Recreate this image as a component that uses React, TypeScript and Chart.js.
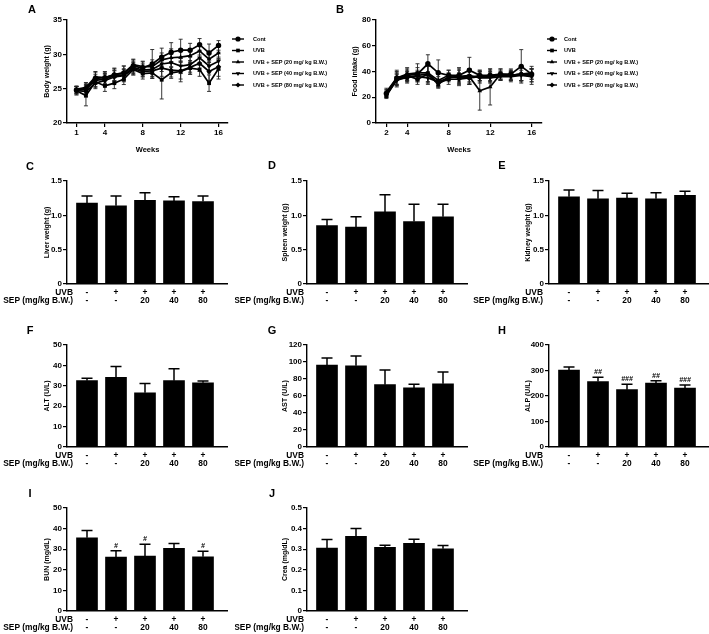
import { useEffect, useRef } from "react";
import { Chart, registerables } from "chart.js";
import { drawPoint } from "chart.js/helpers";

Chart.register(...registerables);

const FONT = '"Liberation Sans", Arial, Helvetica, sans-serif';

// ---- Groups ----
const groupNames = [
  "Cont",
  "UVB",
  "UVB + SEP (20 mg/ kg B.W.)",
  "UVB + SEP (40 mg/ kg B.W.)",
  "UVB + SEP (80 mg/ kg B.W.)",
];
const groupMarkers = ["circle", "rect", "triangle", "triangle", "rectRot"];
const groupMarkerRotation = [0, 0, 0, 180, 0];

// ---- A: body weight (g) by week ----
const bwWeeks = [1, 2, 3, 4, 5, 6, 7, 8, 9, 10, 11, 12, 13, 14, 15, 16];
const bwTicks = [1, 4, 8, 12, 16];
const bwCont = [24.8, 25.0, 26.5, 26.6, 27.0, 27.3, 28.3, 28.0, 28.6, 29.6, 30.3, 30.6, 30.6, 31.4, 30.2, 31.3];
const bwContSd = [0.5, 0.8, 0.9, 0.8, 0.9, 1.0, 0.9, 0.9, 2.1, 1.3, 1.4, 1.6, 1.0, 0.9, 1.3, 0.7];
const bwUvb = [24.7, 24.0, 26.0, 25.4, 25.8, 26.4, 27.8, 27.2, 27.3, 26.3, 27.3, 27.5, 28.0, 27.8, 25.8, 27.9];
const bwUvbSd = [0.6, 1.5, 0.8, 0.8, 0.8, 0.8, 0.8, 0.8, 0.8, 2.8, 0.8, 1.5, 0.9, 1.0, 1.2, 1.5];
const bw20 = [24.9, 25.2, 26.7, 26.6, 27.1, 27.3, 28.5, 28.2, 28.2, 29.2, 29.5, 29.6, 29.8, 30.5, 29.3, 30.2];
const bw20Sd = [0.5, 0.7, 0.8, 0.9, 0.9, 1.0, 0.8, 0.8, 1.0, 1.0, 1.3, 1.2, 1.0, 1.0, 1.1, 1.0];
const bw40 = [24.8, 24.9, 26.2, 26.4, 26.9, 27.0, 28.1, 27.7, 27.8, 28.6, 28.8, 28.3, 28.5, 29.5, 28.3, 29.0];
const bw40Sd = [0.5, 0.7, 0.9, 0.8, 0.8, 0.9, 0.9, 0.9, 1.0, 1.1, 1.2, 1.1, 1.1, 1.1, 1.0, 1.3];
const bw80 = [24.7, 24.6, 25.8, 26.2, 26.7, 26.9, 27.9, 27.5, 27.6, 28.0, 27.7, 27.6, 28.1, 28.7, 27.5, 28.2];
const bw80Sd = [0.6, 0.8, 0.8, 0.9, 0.9, 0.9, 0.9, 0.8, 0.9, 1.2, 1.0, 1.2, 1.0, 1.2, 1.3, 1.4];

// ---- B: food intake (g) by week ----
const fiWeeks = [2, 3, 4, 5, 6, 7, 8, 9, 10, 11, 12, 13, 14, 15, 16];
const fiTicks = [2, 4, 8, 12, 16];
const fiCont = [23, 35, 37, 38, 46, 39, 37, 37, 41, 37, 37, 38, 38, 44, 38];
const fiContSd = [3, 6, 5, 5, 7, 10, 4, 6, 10, 4, 5, 4, 4, 13, 4];
const fiUvb = [21, 34, 35, 37, 38, 30, 36, 35, 35, 36, 37, 37, 37, 38, 37];
const fiUvbSd = [2, 4, 4, 4, 6, 3, 3, 3, 5, 4, 4, 3, 4, 5, 5];
const fi20 = [24, 35, 38, 39, 39, 33, 37, 36, 36, 25, 28, 38, 37, 38, 39];
const fi20Sd = [3, 5, 5, 7, 8, 5, 4, 5, 6, 15, 14, 4, 4, 6, 5];
const fi40 = [22, 33, 36, 36, 35, 32, 35, 36, 37, 35, 35, 36, 36, 37, 36];
const fi40Sd = [2, 5, 4, 4, 5, 4, 3, 6, 5, 4, 4, 3, 4, 4, 6];
const fi80 = [23, 34, 37, 34, 38, 31, 34, 34, 35, 37, 36, 37, 37, 38, 37];
const fi80Sd = [2, 5, 4, 4, 6, 3, 4, 5, 5, 4, 4, 4, 3, 5, 5];

// ---- Treatment table under the bar charts ----
const uvbRow = ["-", "+", "+", "+", "+"];
const sepRow = ["-", "-", "20", "40", "80"];

// ---- C–J: organ weights and serum markers (mean, SD) ----
const liverMean = [1.18, 1.14, 1.22, 1.21, 1.2];
const liverSd = [0.1, 0.14, 0.11, 0.06, 0.08];
const spleenMean = [0.85, 0.83, 1.05, 0.91, 0.98];
const spleenSd = [0.09, 0.15, 0.25, 0.25, 0.18];
const kidneyMean = [1.27, 1.24, 1.25, 1.24, 1.29];
const kidneySd = [0.1, 0.12, 0.07, 0.09, 0.06];
const altMean = [32.5, 34.2, 26.6, 32.5, 31.5];
const altSd = [1.2, 5.2, 4.5, 5.8, 0.9];
const astMean = [96.5, 95.5, 73.3, 69.5, 74.3];
const astSd = [8.2, 11.5, 17.4, 4.2, 14];
const alpMean = [302, 257, 225, 251, 231];
const alpSd = [12, 17, 21, 9, 12];
const alpSig = ["", "##", "###", "##", "###"];
const bunMean = [35.5, 26.2, 26.6, 30.4, 26.3];
const bunSd = [3.6, 3.0, 5.8, 2.4, 2.7];
const bunSig = ["", "#", "#", "", "#"];
const creaMean = [0.305, 0.362, 0.309, 0.328, 0.302];
const creaSd = [0.042, 0.038, 0.01, 0.02, 0.016];

const tickFont = { family: FONT, size: 8, weight: "bold" as const };
const titleFont = { family: FONT, size: 7, weight: "bold" as const };

// Mean ± SD whiskers; bar charts show only the upper whisker
const errorBars = {
  id: "errorBars",
  beforeDatasetsDraw(chart: any, _a: any, opts: any) {
    if (opts && opts.behind) drawErrors(chart, opts);
  },
  afterDatasetsDraw(chart: any, _a: any, opts: any) {
    if (opts && !opts.behind) drawErrors(chart, opts);
  },
};

function drawErrors(chart: any, opts: any) {
  const ctx = chart.ctx;
  ctx.save();
  ctx.strokeStyle = opts.color || "#000";
  ctx.lineWidth = opts.lineWidth || 1;
  chart.data.datasets.forEach((ds: any, di: number) => {
    if (!ds.errors) return;
    const meta = chart.getDatasetMeta(di);
    const ys = chart.scales[meta.yAxisID];
    meta.data.forEach((el: any, i: number) => {
      const v = ds.data[i].y;
      const e = ds.errors[i];
      const x = el.x;
      const yt = ys.getPixelForValue(v + e);
      const yb = opts.upOnly ? ys.getPixelForValue(v) : ys.getPixelForValue(v - e);
      const hw = opts.capWidth / 2;
      ctx.beginPath();
      ctx.moveTo(x, yb);
      ctx.lineTo(x, yt);
      ctx.moveTo(x - hw, yt);
      ctx.lineTo(x + hw, yt);
      if (!opts.upOnly) {
        ctx.moveTo(x - hw, yb);
        ctx.lineTo(x + hw, yb);
      }
      ctx.stroke();
    });
  });
  ctx.restore();
}

// Line + marker key to the right of the plot
const groupLegend = {
  id: "groupLegend",
  afterDraw(chart: any, _a: any, opts: any) {
    if (!opts || !opts.show) return;
    const { ctx, chartArea } = chart;
    ctx.save();
    ctx.font = `bold 5.6px ${FONT}`;
    ctx.textBaseline = "middle";
    ctx.textAlign = "left";
    ctx.fillStyle = "#000";
    ctx.strokeStyle = "#000";
    ctx.lineWidth = 1.4;
    chart.data.datasets.forEach((ds: any, i: number) => {
      const x0 = chartArea.right + opts.dx;
      const y = chartArea.top + opts.dy + i * opts.gap;
      ctx.beginPath();
      ctx.moveTo(x0, y);
      ctx.lineTo(x0 + opts.lineLen, y);
      ctx.stroke();
      drawPoint(ctx, { pointStyle: ds.pointStyle, rotation: ds.pointRotation || 0, radius: 2.6, borderWidth: 0 } as any, x0 + opts.lineLen / 2, y);
      ctx.fillText(ds.label, x0 + opts.textDx, y);
    });
    ctx.restore();
  },
};

// UVB / SEP dose table aligned to the bars
const treatmentTable = {
  id: "treatmentTable",
  afterDraw(chart: any, _a: any, opts: any) {
    if (!opts || !opts.rows) return;
    const { ctx, chartArea } = chart;
    const xs = chart.scales.x;
    ctx.save();
    ctx.font = `bold 8.4px ${FONT}`;
    ctx.fillStyle = "#000";
    ctx.textBaseline = "middle";
    opts.rows.forEach((row: any, r: number) => {
      const y = chartArea.bottom + opts.rowDy[r];
      ctx.textAlign = "right";
      ctx.fillText(row.name, opts.labelRight, y);
      ctx.textAlign = "center";
      row.values.forEach((t: string, i: number) => ctx.fillText(t, xs.getPixelForValue(i), y));
    });
    ctx.restore();
  },
};

// Significance marks above the whiskers
const sigMarks = {
  id: "sigMarks",
  afterDatasetsDraw(chart: any, _a: any, opts: any) {
    if (!opts || !opts.marks) return;
    const ctx = chart.ctx;
    const ds: any = chart.data.datasets[0];
    const meta = chart.getDatasetMeta(0);
    const ys = chart.scales.y;
    ctx.save();
    ctx.font = `italic bold 7px ${FONT}`;
    ctx.fillStyle = "#000";
    ctx.textAlign = "center";
    ctx.textBaseline = "middle";
    opts.marks.forEach((m: string, i: number) => {
      if (!m) return;
      const top = ys.getPixelForValue(ds.data[i].y + ds.errors[i]);
      ctx.fillText(m, meta.data[i].x, top - 5);
    });
    ctx.restore();
  },
};

function yAxis(min: number, max: number, step: number, title: string, titleOffset: number, width: number, fmt?: (v: number) => string) {
  return {
    type: "linear",
    min,
    max,
    ticks: {
      stepSize: step,
      font: tickFont,
      color: "#000",
      padding: 1,
      ...(fmt ? { callback: (v: any) => fmt(Number(v)) } : {}),
    },
    grid: { display: true, drawOnChartArea: false, drawTicks: true, tickLength: 4, color: "#000", lineWidth: 1.2 },
    border: { display: true, color: "#000", width: 1.4 },
    title: { display: true, text: title, font: titleFont, color: "#000", padding: { top: titleOffset - 4.2, bottom: 0 } },
    afterFit: (s: any) => {
      s.width = width;
    },
  };
}

type Box = { left: number; top: number; width: number; height: number };

function ChartCanvas({ box, make }: { box: Box; make: () => any }) {
  const ref = useRef<HTMLCanvasElement>(null);
  useEffect(() => {
    const chart = new Chart(ref.current as HTMLCanvasElement, make());
    return () => chart.destroy();
  }, []);
  return (
    <canvas
      ref={ref}
      width={box.width}
      height={box.height}
      style={{ position: "absolute", left: box.left, top: box.top, width: box.width, height: box.height }}
    />
  );
}

function lineDatasets(weeks: number[], series: number[][], sds: number[][]) {
  return series.map((vals, g) => ({
    label: groupNames[g],
    data: vals.map((v, i) => ({ x: weeks[i], y: v })),
    errors: sds[g],
    borderColor: "#000",
    backgroundColor: "#000",
    borderWidth: 1.7,
    pointStyle: groupMarkers[g],
    pointRotation: groupMarkerRotation[g],
    pointRadius: 2.7,
    pointBorderWidth: 0,
    pointBackgroundColor: "#000",
    tension: 0,
  }));
}

type LineSpec = {
  canvas: Box;
  plot: { left: number; right: number; top: number; bottom: number };
  xMin: number;
  xMax: number;
  xTicks: number[];
  yMin: number;
  yMax: number;
  yStep: number;
  yTitle: string;
  yTitleX: number;
  xTitleY: number;
  legend: { dx: number; lineLen: number; textDx: number };
  datasets: any[];
};

function LinePanel({ spec }: { spec: LineSpec }) {
  const { canvas, plot } = spec;
  const make = () => ({
    type: "line",
    data: { datasets: spec.datasets },
    plugins: [errorBars, groupLegend],
    options: {
      responsive: false,
      animation: false,
      devicePixelRatio: 1,
      events: [],
      layout: { padding: { left: 0, top: plot.top - canvas.top, right: canvas.left + canvas.width - plot.right, bottom: 0 } },
      scales: {
        x: {
          type: "linear",
          min: spec.xMin,
          max: spec.xMax,
          offset: false,
          afterBuildTicks: (s: any) => {
            s.ticks = spec.xTicks.map((v) => ({ value: v }));
          },
          ticks: { font: tickFont, color: "#000", padding: 1, autoSkip: false, maxRotation: 0 },
          grid: { display: true, drawOnChartArea: false, drawTicks: true, tickLength: 4, color: "#000", lineWidth: 1.2 },
          border: { display: true, color: "#000", width: 1.4 },
          title: {
            display: true,
            text: "Weeks",
            font: { family: FONT, size: 7.5, weight: "bold" },
            color: "#000",
            padding: { top: 0, bottom: canvas.top + canvas.height - spec.xTitleY - 4.5 },
          },
          afterFit: (s: any) => {
            s.height = canvas.top + canvas.height - plot.bottom;
          },
        },
        y: yAxis(spec.yMin, spec.yMax, spec.yStep, spec.yTitle, spec.yTitleX - canvas.left, plot.left - canvas.left),
      },
      plugins: {
        legend: { display: false },
        tooltip: { enabled: false },
        errorBars: { behind: true, upOnly: false, capWidth: 4, lineWidth: 0.9, color: "#222" },
        groupLegend: { show: true, dx: spec.legend.dx, lineLen: spec.legend.lineLen, textDx: spec.legend.textDx, dy: 19, gap: 11.5 },
      },
    },
  });
  return <ChartCanvas box={canvas} make={make} />;
}

type BarSpec = {
  col: number;
  row: number;
  title: string;
  mean: number[];
  sd: number[];
  max: number;
  step: number;
  decimals: number;
  marks?: string[];
};

// Panel grid (pixels)
const colCanvasLeft = [0, 235, 470];
const colAxisX = [67, 307, 549];
const colTitleX = [47, 285, 528];
const colTableRight = [73, 304, 543];
const rowPlotTop = [181, 345, 508];
const rowPlotBottom = [284, 447, 611];
const PLOT_W = 160;
const BAR_STEP = 29;

function BarPanel({ spec }: { spec: BarSpec }) {
  const cl = colCanvasLeft[spec.col];
  const axis = colAxisX[spec.col];
  const pTop = rowPlotTop[spec.row];
  const pBot = rowPlotBottom[spec.row];
  const canvas: Box = { left: cl, top: pTop - 10, width: axis + PLOT_W + 2 - cl, height: pBot + 26 - (pTop - 10) };
  const xMin = -20 / BAR_STEP;
  const xMax = xMin + PLOT_W / BAR_STEP;
  const fmt = (v: number) => (v === 0 ? "0" : v.toFixed(spec.decimals));
  const make = () => ({
    type: "bar",
    data: {
      datasets: [
        {
          data: spec.mean.map((v, i) => ({ x: i, y: v })),
          errors: spec.sd,
          backgroundColor: "#000",
          borderWidth: 0,
          barThickness: 21,
        },
      ],
    },
    plugins: [errorBars, treatmentTable, sigMarks],
    options: {
      responsive: false,
      animation: false,
      devicePixelRatio: 1,
      events: [],
      layout: { padding: { left: 0, top: 10, right: 2, bottom: 0 } },
      scales: {
        x: {
          type: "linear",
          min: xMin,
          max: xMax,
          offset: false,
          ticks: { display: false },
          grid: { display: false },
          border: { display: true, color: "#000", width: 1.4 },
          afterFit: (s: any) => {
            s.height = 26;
          },
        },
        y: yAxis(0, spec.max, spec.step, spec.title, colTitleX[spec.col] - cl, axis - cl, fmt),
      },
      plugins: {
        legend: { display: false },
        tooltip: { enabled: false },
        errorBars: { behind: false, upOnly: true, capWidth: 11, lineWidth: 1.5, color: "#000" },
        treatmentTable: {
          labelRight: colTableRight[spec.col] - cl,
          rowDy: [8.5, 17],
          rows: [
            { name: "UVB", values: uvbRow },
            { name: "SEP (mg/kg B.W.)", values: sepRow },
          ],
        },
        sigMarks: spec.marks ? { marks: spec.marks } : {},
      },
    },
  });
  return <ChartCanvas box={canvas} make={make} />;
}

const lineA: LineSpec = {
  canvas: { left: 0, top: 0, width: 335, height: 160 },
  plot: { left: 67, right: 228, top: 20, bottom: 123 },
  xMin: 0,
  xMax: 17,
  xTicks: bwTicks,
  yMin: 20,
  yMax: 35,
  yStep: 5,
  yTitle: "Body weight (g)",
  yTitleX: 47,
  xTitleY: 150,
  legend: { dx: 4, lineLen: 12, textDx: 21 },
  datasets: lineDatasets(bwWeeks, [bwCont, bwUvb, bw20, bw40, bw80], [bwContSd, bwUvbSd, bw20Sd, bw40Sd, bw80Sd]),
};

const lineB: LineSpec = {
  canvas: { left: 335, top: 0, width: 374, height: 160 },
  plot: { left: 376, right: 542, top: 20, bottom: 123 },
  xMin: 1,
  xMax: 17,
  xTicks: fiTicks,
  yMin: 0,
  yMax: 80,
  yStep: 20,
  yTitle: "Food intake (g)",
  yTitleX: 355,
  xTitleY: 150,
  legend: { dx: 5, lineLen: 10, textDx: 17 },
  datasets: lineDatasets(fiWeeks, [fiCont, fiUvb, fi20, fi40, fi80], [fiContSd, fiUvbSd, fi20Sd, fi40Sd, fi80Sd]),
};

const barSpecs: BarSpec[] = [
  { col: 0, row: 0, title: "Liver weight (g)", mean: liverMean, sd: liverSd, max: 1.5, step: 0.5, decimals: 1 },
  { col: 1, row: 0, title: "Spleen weight (g)", mean: spleenMean, sd: spleenSd, max: 1.5, step: 0.5, decimals: 1 },
  { col: 2, row: 0, title: "Kidney weight (g)", mean: kidneyMean, sd: kidneySd, max: 1.5, step: 0.5, decimals: 1 },
  { col: 0, row: 1, title: "ALT (U/L)", mean: altMean, sd: altSd, max: 50, step: 10, decimals: 0 },
  { col: 1, row: 1, title: "AST (U/L)", mean: astMean, sd: astSd, max: 120, step: 20, decimals: 0 },
  { col: 2, row: 1, title: "ALP (U/L)", mean: alpMean, sd: alpSd, max: 400, step: 100, decimals: 0, marks: alpSig },
  { col: 0, row: 2, title: "BUN (mg/dL)", mean: bunMean, sd: bunSd, max: 50, step: 10, decimals: 0, marks: bunSig },
  { col: 1, row: 2, title: "Crea (mg/dL)", mean: creaMean, sd: creaSd, max: 0.5, step: 0.1, decimals: 1 },
];

const panelLetters = [
  { t: "A", x: 32, y: 9 },
  { t: "B", x: 340, y: 9 },
  { t: "C", x: 30, y: 166 },
  { t: "D", x: 272, y: 165 },
  { t: "E", x: 502, y: 165 },
  { t: "F", x: 30, y: 330 },
  { t: "G", x: 272, y: 330 },
  { t: "H", x: 502, y: 330 },
  { t: "I", x: 30, y: 493 },
  { t: "J", x: 272, y: 493 },
];

export default function App() {
  return (
    <div
      style={{
        position: "absolute",
        left: 0,
        top: 0,
        width: 709,
        height: 634,
        overflow: "hidden",
        background: "#fff",
        fontFamily: FONT,
      }}
    >
      <LinePanel spec={lineA} />
      <LinePanel spec={lineB} />
      {barSpecs.map((s, i) => (
        <BarPanel key={i} spec={s} />
      ))}
      {panelLetters.map((l) => (
        <div
          key={l.t}
          style={{
            position: "absolute",
            left: l.x,
            top: l.y,
            transform: "translate(-50%, -50%)",
            fontWeight: "bold",
            fontSize: 11,
            lineHeight: 1,
            color: "#000",
          }}
        >
          {l.t}
        </div>
      ))}
    </div>
  );
}
